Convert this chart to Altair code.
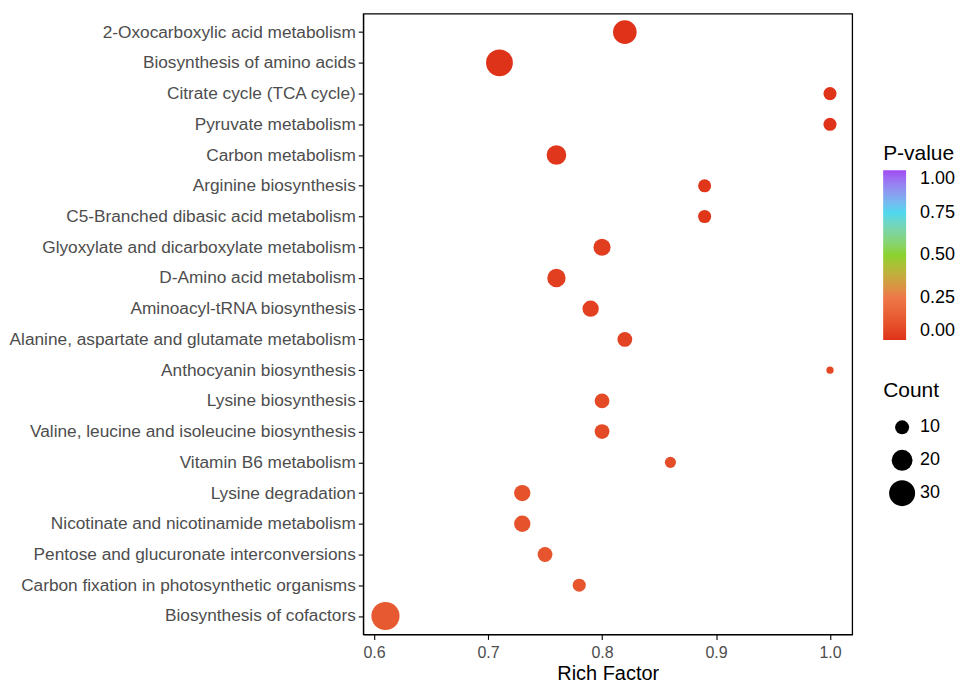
import altair as alt
import pandas as pd

pathways = [
    "2-Oxocarboxylic acid metabolism",
    "Biosynthesis of amino acids",
    "Citrate cycle (TCA cycle)",
    "Pyruvate metabolism",
    "Carbon metabolism",
    "Arginine biosynthesis",
    "C5-Branched dibasic acid metabolism",
    "Glyoxylate and dicarboxylate metabolism",
    "D-Amino acid metabolism",
    "Aminoacyl-tRNA biosynthesis",
    "Alanine, aspartate and glutamate metabolism",
    "Anthocyanin biosynthesis",
    "Lysine biosynthesis",
    "Valine, leucine and isoleucine biosynthesis",
    "Vitamin B6 metabolism",
    "Lysine degradation",
    "Nicotinate and nicotinamide metabolism",
    "Pentose and glucuronate interconversions",
    "Carbon fixation in photosynthetic organisms",
    "Biosynthesis of cofactors",
]
rich_factor = [0.82, 0.71, 1.00, 1.00, 0.76, 0.89, 0.89, 0.80, 0.76, 0.79,
               0.82, 1.00, 0.80, 0.80, 0.86, 0.73, 0.73, 0.75, 0.78, 0.61]
counts = [25, 32, 9, 9, 18, 9, 9, 14, 16, 13,
          11, 4, 11, 11, 7, 13, 13, 11, 9, 35]
p_values = [0.001, 0.002, 0.005, 0.005, 0.01, 0.012, 0.012, 0.03, 0.035, 0.04,
            0.05, 0.06, 0.07, 0.07, 0.08, 0.10, 0.10, 0.11, 0.11, 0.13]

df = pd.DataFrame({
    "Pathway": pathways,
    "Rich Factor": rich_factor,
    "Count": counts,
    "P-value": p_values,
})

FONT = "Liberation Sans"

chart = alt.Chart(df).mark_circle(opacity=1).encode(
    x=alt.X("Rich Factor:Q",
            scale=alt.Scale(domain=[0.5905, 1.0195], nice=False, zero=False),
            axis=alt.Axis(values=[0.6, 0.7, 0.8, 0.9, 1.0], format=".1f",
                          title="Rich Factor", grid=False)),
    y=alt.Y("Pathway:N", sort=pathways,
            scale=alt.Scale(type="point", padding=0.6),
            axis=alt.Axis(title=None, grid=False)),
    color=alt.Color("P-value:Q",
                    scale=alt.Scale(domain=[0, 0.25, 0.5, 0.75, 1.0],
                                    range=["#DF3219", "#EE7848", "#8BD22E", "#4ED8EE", "#A24BF2"],
                                    interpolate="lab"),
                    legend=alt.Legend(title="P-value", orient="none",
                                      legendX=521, legendY=130,
                                      values=[0, 0.25, 0.5, 0.75, 1.0], format=".2f",
                                      gradientLength=170, gradientThickness=23,
                                      direction="vertical", labelOverlap=False,
                                      gradientStrokeWidth=0, labelOffset=14,
                                      titlePadding=6, labelFontSize=18,
                                      titleFontSize=21)),
    size=alt.Size("Count:Q",
                  scale=alt.Scale(domain=[4, 35], range=[52, 796], zero=False),
                  legend=alt.Legend(title="Count", orient="none",
                                    legendX=521, legendY=367,
                                    values=[10, 20, 30], symbolFillColor="black",
                                    symbolStrokeWidth=0, symbolOpacity=1,
                                    clipHeight=27, rowPadding=6,
                                    symbolOffset=6, titlePadding=13,
                                    labelOffset=5, labelFontSize=18,
                                    titleFontSize=21)),
    order=alt.Order("Count:Q", sort="descending"),
).properties(
    width=490,
    height=622,
    padding={"left": 1, "top": 5, "right": 0, "bottom": 0},
).configure_view(
    stroke="black", strokeWidth=1.3
).configure_axis(
    domainColor="black", tickColor="black", tickSize=5, tickWidth=1.1,
    labelFont=FONT, titleFont=FONT, labelColor="#4D4D4D", titleColor="black",
    titleFontWeight="normal", labelPadding=3,
).configure_axisY(
    labelFontSize=17.3, labelLimit=400,
).configure_axisX(
    labelFontSize=16, titleFontSize=20, titlePadding=3, labelPadding=5,
).configure_legend(
    titleFont=FONT, labelFont=FONT,
    titleFontWeight="normal", labelColor="black", titleColor="black",
)

chart.save("out.html", embed_options={"renderer": "svg", "actions": False})
